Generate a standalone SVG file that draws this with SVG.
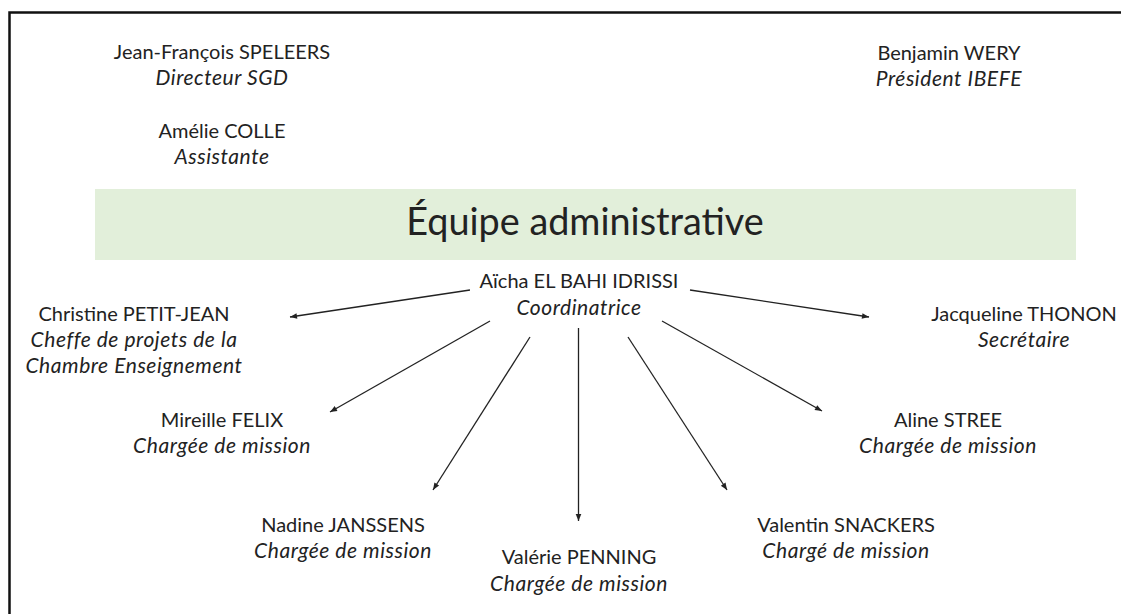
<svg xmlns="http://www.w3.org/2000/svg" width="1121" height="614" viewBox="0 0 1121 614">
<style>
  text { font-family: Lato, "Liberation Sans", sans-serif; fill: #222; text-anchor: middle; }
  .n { font-size: 20px; }
  .r { font-size: 21px; font-style: italic; letter-spacing: 0.55px; }
  .title { font-size: 37.8px; }
  .conn line { stroke: #222; stroke-width: 1.3; fill: none; marker-end: url(#ah); }
</style>
<defs>
  <marker id="ah" viewBox="0 0 10 10" refX="10" refY="5" markerWidth="8" markerHeight="7" orient="auto" markerUnits="userSpaceOnUse">
    <path d="M0,1 L10,5 L0,9 z" fill="#222"/>
  </marker>
</defs>
<rect width="1121" height="614" fill="#fff"/>
<path d="M9.5,614 V12.5 H1121" fill="none" stroke="#111" stroke-width="2.5"/>

<g id="banner">
  <rect x="95" y="189" width="981" height="71" fill="#E2EFDA"/>
  <text class="title" x="585" y="235">Équipe administrative</text>
</g>

<g id="speleers"><text class="n" x="222" y="59">Jean-François SPELEERS</text><text class="r" x="222" y="85">Directeur SGD</text></g>
<g id="colle"><text class="n" x="222" y="138">Amélie COLLE</text><text class="r" x="222" y="164">Assistante</text></g>
<g id="wery"><text class="n" x="949" y="60">Benjamin WERY</text><text class="r" x="949" y="86">Président IBEFE</text></g>

<g id="elbahi"><text class="n" x="579" y="288">Aïcha EL BAHI IDRISSI</text><text class="r" x="579" y="315">Coordinatrice</text></g>
<g id="petitjean"><text class="n" x="134" y="321">Christine PETIT-JEAN</text><text class="r" x="134" y="347">Cheffe de projets de la</text><text class="r" x="134" y="373">Chambre Enseignement</text></g>
<g id="thonon"><text class="n" x="1024" y="321">Jacqueline THONON</text><text class="r" x="1024" y="347">Secrétaire</text></g>
<g id="felix"><text class="n" x="222" y="427">Mireille FELIX</text><text class="r" x="222" y="453">Chargée de mission</text></g>
<g id="stree"><text class="n" x="948" y="427">Aline STREE</text><text class="r" x="948" y="453">Chargée de mission</text></g>
<g id="janssens"><text class="n" x="343" y="532">Nadine JANSSENS</text><text class="r" x="343" y="558">Chargée de mission</text></g>
<g id="snackers"><text class="n" x="846" y="532">Valentin SNACKERS</text><text class="r" x="846" y="558">Chargé de mission</text></g>
<g id="penning"><text class="n" x="579" y="564">Valérie PENNING</text><text class="r" x="579" y="591">Chargée de mission</text></g>

<g id="connectors" class="conn">
  <line x1="470" y1="290" x2="290" y2="317"/>
  <line x1="690" y1="290" x2="869" y2="317"/>
  <line x1="490" y1="321" x2="330" y2="412"/>
  <line x1="530" y1="337" x2="433" y2="490"/>
  <line x1="578.5" y1="328" x2="578.5" y2="521"/>
  <line x1="628" y1="337" x2="727" y2="490"/>
  <line x1="662" y1="321" x2="822" y2="411"/>
</g>
</svg>
